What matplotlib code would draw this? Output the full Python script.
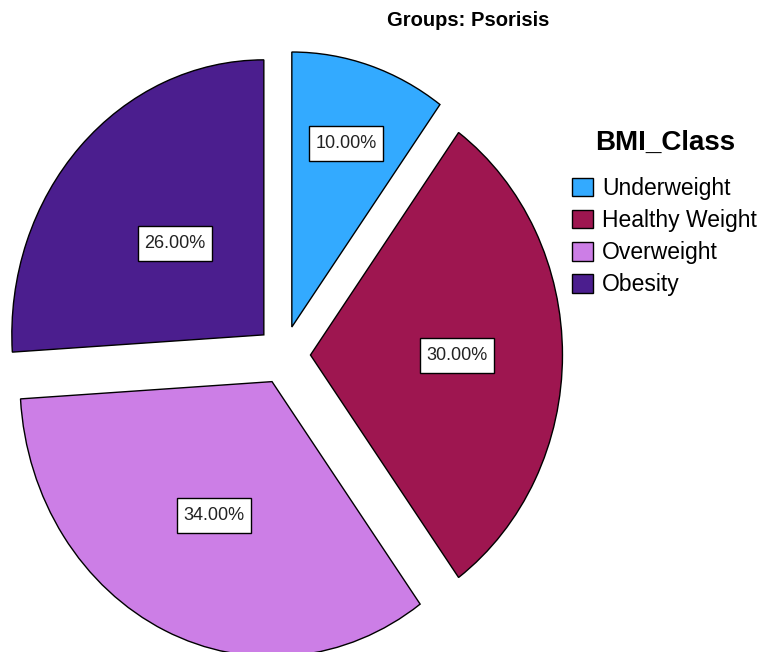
import numpy as np
import matplotlib
matplotlib.use("Agg")
import matplotlib.pyplot as plt
from matplotlib.patches import Rectangle
from matplotlib.transforms import ScaledTranslation

plt.rcParams['font.family'] = ['Liberation Sans', 'DejaVu Sans']

# BMI class shares for the psoriasis group
classes = ['Underweight', 'Healthy Weight', 'Overweight', 'Obesity']
percent = [10.0, 30.0, 34.0, 26.0]
colors = ['#33aaff', '#9e1650', '#cc7ee6', '#4b1e8e']

# how far in from the wedge tip each percentage box sits (fraction of radius)
label_r = [0.70, 0.58, 0.54, 0.485]
explode_amt = 0.107

W, H = 764, 652
fig = plt.figure(figsize=(W / 100, H / 100), dpi=100)
ax = fig.add_axes([0, 0, 1, 1])

wedges, _ = ax.pie(percent, colors=colors, startangle=90, counterclock=False,
                   explode=[explode_amt] * len(percent),
                   wedgeprops=dict(edgecolor='black', linewidth=1.0))

# pie centre and radii in pixels (slightly taller than wide)
cx, cy, rx, ry = 283.5, 355, 252, 275
ax.set_aspect('auto')
ax.set_xlim(-cx / rx, (W - cx) / rx)
ax.set_ylim((cy - H) / ry, cy / ry)
ax.axis('off')

for w, p, r in zip(wedges, percent, label_r):
    mid = np.deg2rad((w.theta1 + w.theta2) / 2)
    d = explode_amt + r
    x, y = d * np.cos(mid), d * np.sin(mid)
    # fixed-size label box (inches) centred on the label point
    box_tr = fig.dpi_scale_trans + ScaledTranslation(x, y, ax.transData)
    ax.add_patch(Rectangle((-0.37, -0.175), 0.74, 0.35, transform=box_tr,
                           facecolor='white', edgecolor='black', linewidth=1.0,
                           zorder=3))
    ax.text(x, y, f'{p:.2f}%', ha='center', va='center', fontsize=13,
            color='#222222', zorder=4)

fig.text(468 / W, 1 - 20 / H, 'Groups: Psorisis', ha='center', va='center',
         fontsize=14.5, fontweight='bold')

fig.text(665 / W, 1 - 143 / H, 'BMI_Class', ha='center', va='center',
         fontsize=20, fontweight='bold')

leg = ax.legend(wedges, classes, loc='upper left',
                bbox_to_anchor=(572 / W, 1 - 177 / H), bbox_transform=fig.transFigure,
                frameon=False, borderpad=0, fontsize=16.5,
                handlelength=0.9, handleheight=0.85, handletextpad=0.4,
                labelspacing=0.4, borderaxespad=0)
for h in leg.legend_handles:
    h.set_edgecolor('black')
    h.set_linewidth(1.0)

fig.savefig('out.png', dpi=100)
